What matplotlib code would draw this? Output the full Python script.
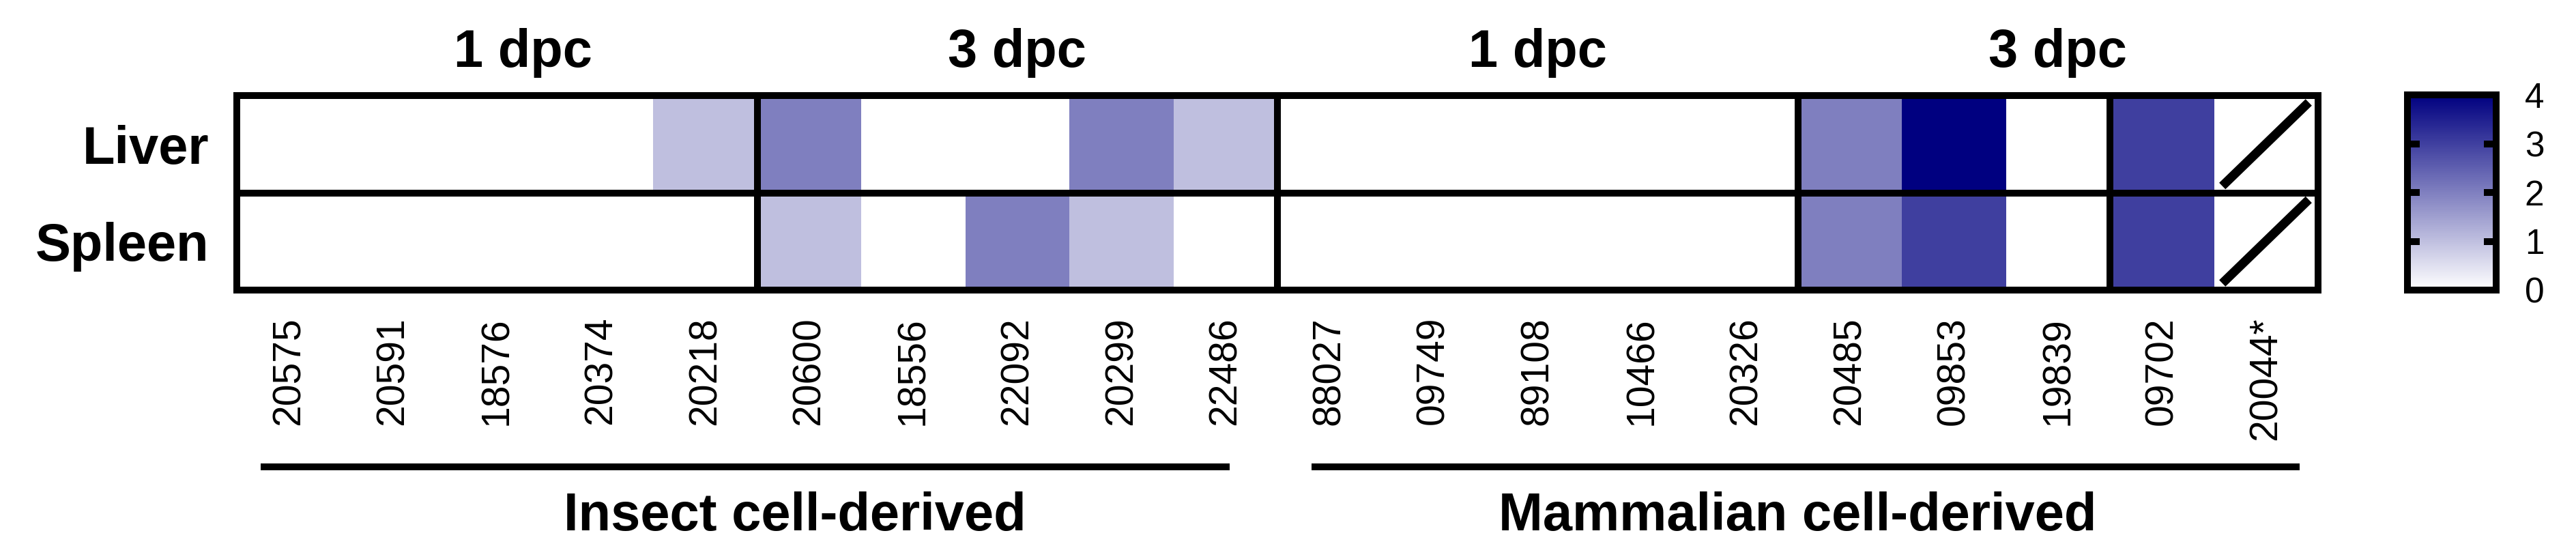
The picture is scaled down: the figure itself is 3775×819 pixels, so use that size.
import numpy as np
import matplotlib.pyplot as plt
from matplotlib.colors import LinearSegmentedColormap

plt.rcParams['font.family'] = ['Liberation Sans', 'DejaVu Sans']

samples = ['20575', '20591', '18576', '20374', '20218',
           '20600', '18556', '22092', '20299', '22486',
           '88027', '09749', '89108', '10466', '20326',
           '20485', '09853', '19839', '09702', '20044*']
tissues = ['Liver', 'Spleen']
liver = [0, 0, 0, 0, 1, 2, 0, 0, 2, 1, 0, 0, 0, 0, 0, 2, 4, 0, 3, np.nan]
spleen = [0, 0, 0, 0, 0, 1, 0, 2, 1, 0, 0, 0, 0, 0, 0, 2, 3, 0, 3, np.nan]
dpc_labels = ['1 dpc', '3 dpc', '1 dpc', '3 dpc']
dpc_pos = [2.75, 7.5, 12.5, 17.5]
dividers = [5, 10, 15, 18]
groups = ['Insect cell-derived', 'Mammalian cell-derived']
group_bars = [(0.23, 9.54), (10.33, 19.82)]
group_text_x = [5.36, 15.0]

vals = np.array([liver, spleen])
cmap = LinearSegmentedColormap.from_list('wb', ['#ffffff', '#000080'])
lw = 7.2

W, H = 3775, 819
fig = plt.figure(figsize=(W / 100, H / 100), dpi=100)
ax = fig.add_axes([347 / W, (H - 425) / H, (3397 - 347) / W, 285 / H])
mesh = ax.pcolormesh(np.arange(21), np.arange(3), vals, cmap=cmap, vmin=0, vmax=4)
ax.set_xlim(0, 20)
ax.set_ylim(2, 0)
for s in ax.spines.values():
    s.set_linewidth(lw)
ax.axhline(1, color='black', lw=lw)
for d in dividers:
    ax.axvline(d, color='black', lw=lw)

# missing sample: slash through cells
for r in range(2):
    if np.isnan(vals[r, 19]):
        ax.plot([19.08, 19.91], [r + 0.93, r + 0.07], color='black', lw=9.5,
                solid_capstyle='butt')

ax.set_xticks(np.arange(20) + 0.5)
ax.set_xticklabels(samples, rotation=90, fontsize=41, va='top')
ax.set_yticks([0.5, 1.5])
ax.set_yticklabels(tissues, fontsize=56, fontweight='bold')
ax.tick_params(axis='x', length=0, pad=28)
ax.tick_params(axis='y', length=0, pad=29)

for t, x in zip(dpc_labels, dpc_pos):
    ax.text(x, -0.295, t, ha='center', va='baseline', fontsize=56,
            fontweight='bold')

for (x0, x1), g, gx in zip(group_bars, groups, group_text_x):
    ax.plot([x0, x1], [3.82, 3.82], color='black', lw=lw, clip_on=False,
            solid_capstyle='butt')
    ax.text(gx, 4.47, g, ha='center', va='baseline', fontsize=56,
            fontweight='bold')

cax = fig.add_axes([3528 / W, (H - 425) / H, 130 / W, 286 / H])
cb = fig.colorbar(mesh, cax=cax, ticks=[0, 1, 2, 3, 4])
cb.outline.set_linewidth(lw)
cax.tick_params(direction='in', left=True, right=True, length=13, width=lw,
                labelsize=37, pad=30)

fig.savefig('out.png', dpi=100)
